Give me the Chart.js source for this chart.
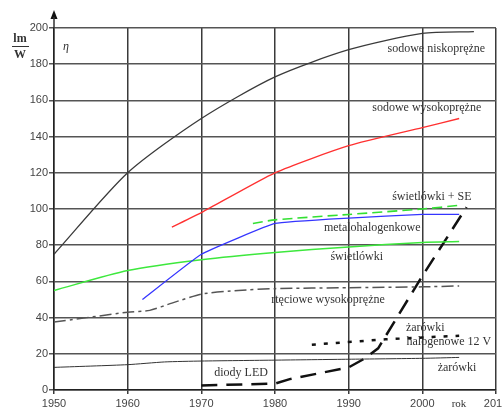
<!DOCTYPE html>
<html lang="pl">
<head>
    <meta charset="UTF-8">
    <title>Skuteczność świetlna źródeł światła</title>
    <script src="https://cdn.jsdelivr.net/npm/chart.js"></script>
    <style>
        body { margin: 0; background: #fff; }
        canvas { display: block; }
    </style>
</head>
<body>
    <canvas id="chart" width="502" height="408"></canvas>

    <script>
        // dane: [rok, lm/W]
        const sodoweNisko = [[1950, 75], [1960, 120], [1970, 150], [1980, 173], [1990, 188], [2000, 197], [2007, 198]];
        const sodoweWysoko = [[1966, 90], [1970, 98], [1980, 120], [1990, 135], [2000, 145], [2005, 150]];
        const swietlowkiSE = [[1977, 92], [1980, 94], [1990, 97], [2000, 100], [2005, 102]];
        const metalohalogenkowe = [[1962, 50], [1970, 75], [1980, 92], [1990, 95], [2000, 97], [2005, 97]];
        const swietlowki = [[1950, 55], [1960, 66], [1970, 72], [1980, 76], [1990, 79], [2000, 81.5], [2005, 82]];
        const rteciowe = [[1950, 37.5], [1960, 43], [1963, 44], [1966, 48], [1970, 53], [1975, 55], [1980, 56], [1990, 56.5], [2000, 57], [2005, 57.5]];
        const halogenowe = [[1985, 25], [1990, 26.5], [1995, 28], [2000, 29], [2005, 30]];
        const zarowki = [[1950, 12.5], [1960, 14], [1965, 15.5], [1970, 16], [1980, 16.5], [1990, 17], [2000, 17.5], [2005, 18]];
        const diodyLED = [[1970, 2.5], [1980, 3.5], [1982, 6], [1990, 12.5], [1992, 17], [1994, 23], [2000, 63], [2006, 101]];

        const yTicks = [0, 20, 40, 60, 80, 100, 120, 140, 160, 180, 200];
        const xTicks = [1950, 1960, 1970, 1980, 1990, 2000, 2010];

        // podpisy krzywych (rok, wartość w miejscu podpisu)
        const podpisy = [
            ['sodowe niskoprężne', 2001.9, 188.4],
            ['sodowe wysokoprężne', 2000.6, 155.8],
            ['świetlówki + SE', 2001.3, 106.6],
            ['metalohalogenkowe', 1993.2, 89.5],
            ['świetlówki', 1991.1, 73.5],
            ['rtęciowe wysokoprężne', 1987.2, 49.7],
            ['żarówki', 2000.4, 34.3],
            ['halogenowe 12 V', 2003.6, 26.5],
            ['żarówki', 2004.7, 12.2],
            ['diody LED', 1975.4, 9.4]
        ];

        const toXY = arr => arr.map(p => ({ x: p[0], y: p[1] }));

        function seria(label, data, color, width, dash, tension) {
            return {
                label: label,
                data: toXY(data),
                borderColor: color,
                borderWidth: width,
                borderDash: dash,
                pointRadius: 0,
                tension: tension,
                fill: false
            };
        }

        // podpisy, strzałka osi i jednostka
        const dodatki = {
            id: 'dodatki',
            afterDraw(chart) {
                const ctx = chart.ctx;
                const x = chart.scales.x, y = chart.scales.y;
                ctx.save();
                ctx.fillStyle = '#333';
                ctx.font = '12px "Liberation Serif"';
                ctx.textAlign = 'center';
                ctx.textBaseline = 'middle';
                podpisy.forEach(p => {
                    ctx.fillText(p[0], x.getPixelForValue(p[1]), y.getPixelForValue(p[2]));
                });
                ctx.font = '11px "Liberation Serif"';
                ctx.fillText('rok', 459, 404);

                // strzałka osi Y
                const x0 = x.getPixelForValue(1950);
                ctx.fillStyle = '#111';
                ctx.beginPath();
                ctx.moveTo(x0, 10);
                ctx.lineTo(x0 - 3.5, 19);
                ctx.lineTo(x0 + 3.5, 19);
                ctx.closePath();
                ctx.fill();
                ctx.strokeStyle = '#333';
                ctx.lineWidth = 1.5;
                ctx.beginPath();
                ctx.moveTo(x0, 17);
                ctx.lineTo(x0, chart.chartArea.top);
                ctx.stroke();

                // lm/W
                ctx.fillStyle = '#333';
                ctx.font = 'bold 12px "Liberation Serif"';
                ctx.fillText('lm', 20, 39);
                ctx.fillText('W', 20, 55);
                ctx.lineWidth = 1;
                ctx.beginPath();
                ctx.moveTo(12, 46.5);
                ctx.lineTo(29, 46.5);
                ctx.stroke();
                ctx.font = 'italic 12px "Liberation Serif"';
                ctx.fillText('η', 66, 47);
                ctx.restore();
            }
        };

        new Chart(document.getElementById('chart').getContext('2d'), {
            type: 'line',
            data: {
                datasets: [
                    seria('sodowe niskoprężne', sodoweNisko, '#3a3a3a', 1.3, [], 0.25),
                    seria('sodowe wysokoprężne', sodoweWysoko, '#ff3030', 1.3, [], 0.2),
                    seria('świetlówki + SE', swietlowkiSE, '#33e033', 1.6, [10, 5], 0.2),
                    seria('metalohalogenkowe', metalohalogenkowe, '#3535ff', 1.3, [], 0.1),
                    seria('świetlówki', swietlowki, '#3de83d', 1.5, [], 0.25),
                    seria('rtęciowe wysokoprężne', rteciowe, '#555', 1.5, [12, 4, 3, 4], 0.2),
                    seria('żarówki halogenowe 12 V', halogenowe, '#111', 2.5, [4, 8], 0),
                    seria('żarówki', zarowki, '#333', 1, [], 0.2),
                    seria('diody LED', diodyLED, '#111', 2.5, [16, 9], 0)
                ]
            },
            options: {
                responsive: false,
                animation: false,
                layout: { padding: { top: 28, right: 6, left: 0, bottom: 0 } },
                plugins: {
                    legend: { display: false },
                    tooltip: { enabled: false }
                },
                scales: {
                    x: {
                        type: 'linear',
                        min: 1950,
                        max: 2010,
                        afterBuildTicks: s => { s.ticks = xTicks.map(v => ({ value: v })); },
                        afterFit: s => { s.height = 18; s.paddingLeft = 0; s.paddingRight = 0; },
                        ticks: {
                            color: '#444',
                            font: { family: '"Liberation Sans"', size: 11 },
                            padding: 3,
                            maxRotation: 0,
                            callback: v => String(v)
                        },
                        grid: { color: '#3a3a3a', lineWidth: 1.5, tickLength: 4 },
                        border: { color: '#222', width: 1.5 }
                    },
                    y: {
                        min: 0,
                        max: 200,
                        afterBuildTicks: s => { s.ticks = yTicks.map(v => ({ value: v })); },
                        afterFit: s => { s.width = 54; s.paddingTop = 0; s.paddingBottom = 0; },
                        ticks: {
                            color: '#444',
                            font: { family: '"Liberation Sans"', size: 11 },
                            padding: 1
                        },
                        grid: { color: '#555', lineWidth: 1.5, tickLength: 5 },
                        border: { color: '#222', width: 1.5 }
                    }
                }
            },
            plugins: [dodatki]
        });
    </script>
</body>
</html>
